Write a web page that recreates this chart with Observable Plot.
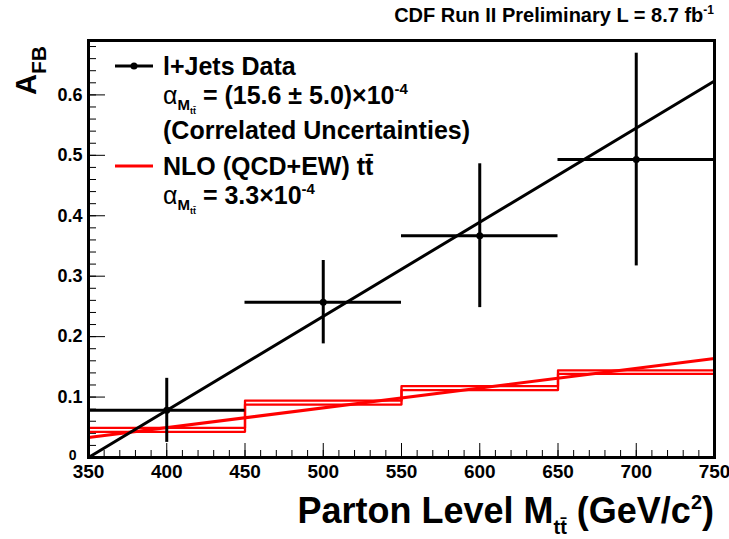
<!DOCTYPE html>
<html>
<head>
<meta charset="utf-8">
<script src="https://cdn.jsdelivr.net/npm/d3@7"></script>
<script src="https://cdn.jsdelivr.net/npm/@observablehq/plot@0.6"></script>
<style>
  body { margin: 0; background: #fff; }
  #chart svg { display: block; }
</style>
</head>
<body>
<div id="chart"></div>
<script>
// ---------- data ----------
const massLow    = [350, 450, 550, 650];
const massHigh   = [450, 550, 650, 750];
const massCenter = [400, 500, 600, 700];
const afbData    = [0.078, 0.257, 0.367, 0.493];
const afbError   = [0.053, 0.069, 0.119, 0.176];
const nloLow     = [0.0425, 0.0875, 0.1115, 0.1385];
const nloHigh    = [0.049, 0.094, 0.118, 0.144];
const fitMass    = [350, 750];
const fitData    = [0.000, 0.623];
const fitNlo     = [0.033, 0.164];
const xTickLabels = [350, 400, 450, 500, 550, 600, 650, 700, 750];
const yTickLabels = [0.1, 0.2, 0.3, 0.4, 0.5, 0.6];

// ---------- layout ----------
const W = 729, H = 539;
const mL = 88, mR = 15, mT = 40, mB = 82;
const fw = W - mL - mR, fh = H - mT - mB;
const FONT = "Liberation Sans, Arial, Helvetica, sans-serif";

const points = massCenter.map((m, i) => ({m, lo: massLow[i], hi: massHigh[i], a: afbData[i], e: afbError[i]}));
const stepOf = (vals) => [{m: massLow[0], a: 0}, ...massLow.map((m, i) => ({m, a: vals[i]})), {m: massHigh[massHigh.length - 1], a: vals[vals.length - 1]}];
const fitRows = (vals) => fitMass.map((m, i) => ({m, a: vals[i]}));

const svg = Plot.plot({
  width: W, height: H,
  marginLeft: mL, marginRight: mR, marginTop: mT, marginBottom: mB,
  x: {domain: [350, 750]},
  y: {domain: [0, 0.69]},
  style: {fontFamily: FONT, background: "white", color: "black"},
  marks: [
    // inner ticks
    Plot.tickX(d3.range(350, 751, 10), {x: d => d, stroke: "black", strokeWidth: 1, insetTop: fh - 7}),
    Plot.tickX(xTickLabels, {x: d => d, stroke: "black", strokeWidth: 1, insetTop: fh - 14}),
    Plot.tickY(d3.range(0, 0.69, 0.02), {y: d => d, stroke: "black", strokeWidth: 1, insetRight: fw - 8}),
    Plot.tickY(yTickLabels, {y: d => d, stroke: "black", strokeWidth: 1, insetRight: fw - 17}),
    // tick labels
    Plot.axisX(xTickLabels, {tickSize: 0, tickPadding: 7, fontSize: 19, fontWeight: "bold", label: null}),
    Plot.axisY(yTickLabels, {tickSize: 0, tickPadding: 6, fontSize: 18, fontWeight: "bold", label: null, tickFormat: d => d.toFixed(1)}),
    Plot.text([0], {y: d => d, frameAnchor: "left", text: () => "0", textAnchor: "end", dx: -12, dy: -2, fontSize: 14, fontWeight: "bold"}),
    // NLO prediction: upper and lower histogram outlines
    Plot.line(stepOf(nloHigh), {x: "m", y: "a", curve: "step-after", stroke: "#ff0000", strokeWidth: 2.3}),
    Plot.line(stepOf(nloLow), {x: "m", y: "a", curve: "step-after", stroke: "#ff0000", strokeWidth: 2.3}),
    Plot.line(fitRows(fitNlo), {x: "m", y: "a", stroke: "#ff0000", strokeWidth: 3}),
    // data fit
    Plot.line(fitRows(fitData), {x: "m", y: "a", stroke: "black", strokeWidth: 3}),
    // data points
    Plot.ruleY(points, {y: "a", x1: "lo", x2: "hi", stroke: "black", strokeWidth: 3}),
    Plot.ruleX(points, {x: "m", y1: d => d.a - d.e, y2: d => d.a + d.e, stroke: "black", strokeWidth: 3}),
    Plot.dot(points, {x: "m", y: "a", r: 3.5, fill: "black", stroke: "none"}),
    Plot.frame({stroke: "black", strokeWidth: 3})
  ]
});

document.getElementById("chart").appendChild(svg);

// ---------- text annotations ----------
const root = d3.select(svg);
function richText(x, y, anchor, parts, transform) {
  const t = root.append("text")
    .attr("x", x).attr("y", y)
    .attr("text-anchor", anchor)
    .attr("font-family", FONT)
    .attr("fill", "black");
  if (transform) t.attr("transform", transform);
  let cur = 0;
  for (const p of parts) {
    const shift = p.shift || 0;
    t.append("tspan")
      .attr("dy", shift - cur)
      .attr("font-size", p.size)
      .attr("font-weight", p.weight || "bold")
      .text(p.t);
    cur = shift;
  }
  return t;
}

// header
richText(714, 22, "end", [
  {t: "CDF Run II Preliminary L = 8.7 fb", size: 20},
  {t: "-1", size: 12, shift: -8}
]);

// y title
richText(0, 0, "start", [
  {t: "A", size: 29},
  {t: "FB", size: 21, shift: 10}
], "translate(36,95) rotate(-90)");

// x title
richText(714, 523, "end", [
  {t: "Parton Level M", size: 36},
  {t: "tt\u0304", size: 20, shift: 11},
  {t: " (GeV/c", size: 36, shift: 0},
  {t: "2", size: 20, shift: -14},
  {t: ")", size: 36, shift: 0}
]);

// legend
root.append("line").attr("x1", 115).attr("x2", 153).attr("y1", 66).attr("y2", 66)
  .attr("stroke", "black").attr("stroke-width", 3);
root.append("circle").attr("cx", 134).attr("cy", 66).attr("r", 3.5).attr("fill", "black");
richText(163, 75, "start", [{t: "l+Jets Data", size: 25}]);
richText(163, 104, "start", [
  {t: "\u03b1", size: 25, weight: "normal"},
  {t: "M", size: 15, shift: 6},
  {t: "tt\u0304", size: 9, shift: 10},
  {t: " = (15.6 \u00b1 5.0)\u00d710", size: 25, shift: 0},
  {t: "-4", size: 15, shift: -10}
]);
richText(163, 139, "start", [{t: "(Correlated Uncertainties)", size: 25}]);

root.append("line").attr("x1", 115).attr("x2", 153).attr("y1", 166).attr("y2", 166)
  .attr("stroke", "#ff0000").attr("stroke-width", 3);
richText(163, 175, "start", [{t: "NLO (QCD+EW) tt\u0304", size: 25}]);
richText(163, 204, "start", [
  {t: "\u03b1", size: 25, weight: "normal"},
  {t: "M", size: 15, shift: 6},
  {t: "tt\u0304", size: 9, shift: 10},
  {t: " = 3.3\u00d710", size: 25, shift: 0},
  {t: "-4", size: 15, shift: -10}
]);
</script>
</body>
</html>
